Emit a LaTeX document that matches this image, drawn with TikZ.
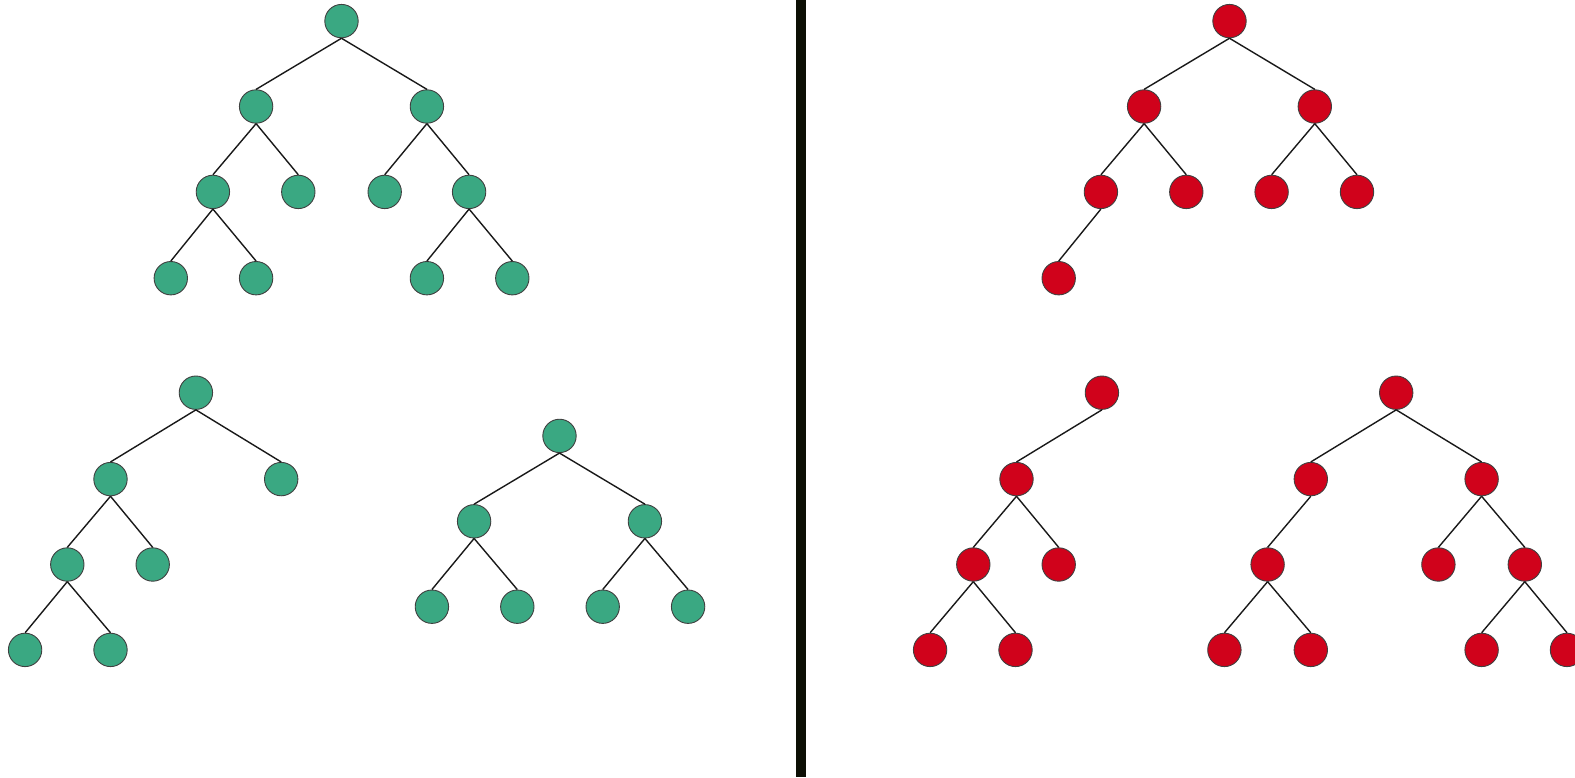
\documentclass[tikz,border=0pt]{standalone}
\definecolor{gnode}{HTML}{3AA882}
\definecolor{rnode}{HTML}{D0021B}
\definecolor{bar}{HTML}{0D0F05}
\tikzset{
  gn/.style={circle, fill=gnode, draw=black!75, line width=0.9pt, minimum size=33.4pt, inner sep=0pt},
  rn/.style={circle, fill=rnode, draw=black!75, line width=0.9pt, minimum size=33.4pt, inner sep=0pt},
  edge/.style={draw=black!90, line width=1.4pt}
}
\newcommand{\lnk}[2]{\draw[edge] (#1.south) -- (#2.north);}
\begin{document}
\begin{tikzpicture}[x=1pt,y=-1pt]
\useasboundingbox (0,0) rectangle (1575,777);
% divider
\node[fill=bar, inner sep=0pt, minimum width=10pt, minimum height=777pt, anchor=north] (div) at (801,0) {};
% green tree 1
\node[gn] (a) at (341.5,21.1) {};
\node[gn] (a1) at (256.1,106.5) {};
\node[gn] (a2) at (426.9,106.5) {};
\node[gn] (a11) at (212.9,191.9) {};
\node[gn] (a12) at (298.3,191.9) {};
\node[gn] (a21) at (384.7,191.9) {};
\node[gn] (a22) at (469.1,191.9) {};
\node[gn] (a111) at (170.8,278.2) {};
\node[gn] (a112) at (256.1,278.2) {};
\node[gn] (a221) at (426.9,278.2) {};
\node[gn] (a222) at (512.3,278.2) {};
\lnk{a}{a1}\lnk{a}{a2}\lnk{a1}{a11}\lnk{a1}{a12}\lnk{a2}{a21}\lnk{a2}{a22}
\lnk{a11}{a111}\lnk{a11}{a112}\lnk{a22}{a221}\lnk{a22}{a222}
% green tree 2
\node[gn] (b) at (195.9,392.7) {};
\node[gn] (b1) at (110.5,479.1) {};
\node[gn] (b2) at (281.2,479.1) {};
\node[gn] (b11) at (67.3,564.5) {};
\node[gn] (b12) at (152.7,564.5) {};
\node[gn] (b111) at (25.1,649.9) {};
\node[gn] (b112) at (110.5,649.9) {};
\lnk{b}{b1}\lnk{b}{b2}\lnk{b1}{b11}\lnk{b1}{b12}\lnk{b11}{b111}\lnk{b11}{b112}
% green tree 3
\node[gn] (c) at (559.5,435.9) {};
\node[gn] (c1) at (474.1,521.3) {};
\node[gn] (c2) at (644.9,521.3) {};
\node[gn] (c11) at (431.9,606.7) {};
\node[gn] (c12) at (517.3,606.7) {};
\node[gn] (c21) at (602.7,606.7) {};
\node[gn] (c22) at (688.1,606.7) {};
\lnk{c}{c1}\lnk{c}{c2}\lnk{c1}{c11}\lnk{c1}{c12}\lnk{c2}{c21}\lnk{c2}{c22}
% red tree 1
\node[rn] (d) at (1229.5,21.1) {};
\node[rn] (d1) at (1144.1,106.5) {};
\node[rn] (d2) at (1314.8,106.5) {};
\node[rn] (d11) at (1100.9,191.9) {};
\node[rn] (d12) at (1186.3,191.9) {};
\node[rn] (d21) at (1271.6,191.9) {};
\node[rn] (d22) at (1357.0,191.9) {};
\node[rn] (d111) at (1058.7,278.2) {};
\lnk{d}{d1}\lnk{d}{d2}\lnk{d1}{d11}\lnk{d1}{d12}\lnk{d2}{d21}\lnk{d2}{d22}\lnk{d11}{d111}
% red tree 2
\node[rn] (e) at (1101.9,392.7) {};
\node[rn] (e1) at (1016.5,479.1) {};
\node[rn] (e11) at (973.3,564.5) {};
\node[rn] (e12) at (1058.7,564.5) {};
\node[rn] (e111) at (930.1,649.9) {};
\node[rn] (e112) at (1015.5,649.9) {};
\lnk{e}{e1}\lnk{e1}{e11}\lnk{e1}{e12}\lnk{e11}{e111}\lnk{e11}{e112}
% red tree 3
\node[rn] (f) at (1396.2,392.7) {};
\node[rn] (f1) at (1310.8,479.1) {};
\node[rn] (f2) at (1481.6,479.1) {};
\node[rn] (f11) at (1267.6,564.5) {};
\node[rn] (f21) at (1438.4,564.5) {};
\node[rn] (f22) at (1524.8,564.5) {};
\node[rn] (f111) at (1224.4,649.9) {};
\node[rn] (f112) at (1310.8,649.9) {};
\node[rn] (f221) at (1481.6,649.9) {};
\node[rn] (f222) at (1567.0,649.9) {};
\lnk{f}{f1}\lnk{f}{f2}\lnk{f1}{f11}\lnk{f2}{f21}\lnk{f2}{f22}
\lnk{f11}{f111}\lnk{f11}{f112}\lnk{f22}{f221}\lnk{f22}{f222}
\end{tikzpicture}
\end{document}
